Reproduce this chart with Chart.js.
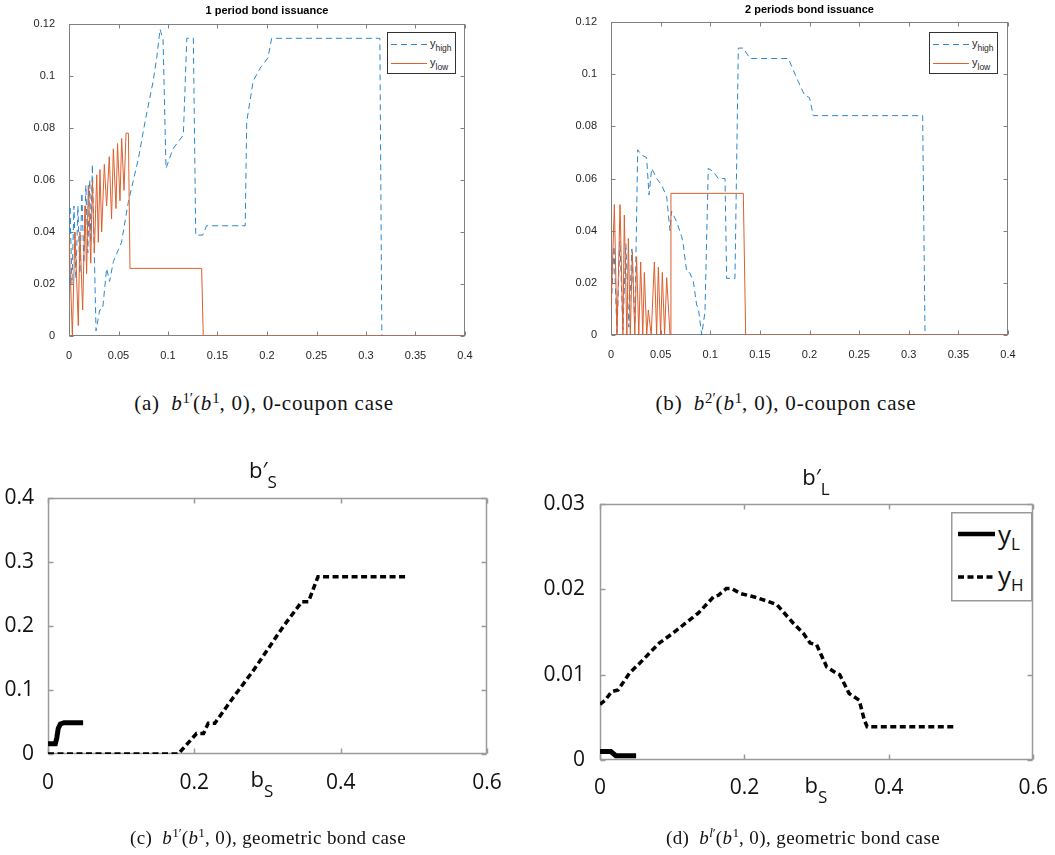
<!DOCTYPE html>
<html><head><meta charset="utf-8">
<script src="https://cdn.jsdelivr.net/npm/chart.js@4.4.1/dist/chart.umd.min.js"></script>
<style>
body{margin:0;background:#fff;}
#wrap{position:relative;width:1055px;height:855px;overflow:hidden;background:#fff;}
canvas{position:absolute;}
.t{position:absolute;white-space:nowrap;}
.cap{font-family:'Liberation Serif',serif;color:#111;transform:translateX(-50%);line-height:22px;}
.capT{font-size:21px;letter-spacing:0.8px;}
.capB{font-size:19px;letter-spacing:0.4px;}
.cap sup{font-size:0.7em;vertical-align:0.5em;line-height:0;letter-spacing:0;}
.ml{font-family:'Open Sans',sans-serif;color:#111;transform:translateX(-50%);font-size:22px;line-height:22px;}
.sub{font-size:17px;position:relative;top:10px;}
</style></head>
<body><div id="wrap">
<canvas id="ca" width="527" height="380" style="left:0;top:0"></canvas>
<canvas id="cb" width="528" height="380" style="left:527px;top:0"></canvas>
<canvas id="cc" width="527" height="400" style="left:0;top:430px"></canvas>
<canvas id="cd" width="528" height="400" style="left:527px;top:430px"></canvas>

<svg class="t" style="left:387px;top:32px" width="70" height="43">
 <rect x="0.5" y="0.5" width="68" height="41" fill="#fff" stroke="#333" stroke-width="1"/>
 <line x1="4" y1="12.5" x2="40" y2="12.5" stroke="#2b87cc" stroke-width="1" stroke-dasharray="6 4"/>
 <text x="43" y="15" font-family="Liberation Sans" font-size="11" fill="#262626">y<tspan font-size="8.5" dy="3.5">high</tspan></text>
 <line x1="4" y1="31.5" x2="40" y2="31.5" stroke="#dd5f2c" stroke-width="1"/>
 <text x="43" y="34" font-family="Liberation Sans" font-size="11" fill="#262626">y<tspan font-size="8.5" dy="3.5">low</tspan></text>
</svg>
<svg class="t" style="left:929px;top:32px" width="70" height="43">
 <rect x="0.5" y="0.5" width="68" height="41" fill="#fff" stroke="#333" stroke-width="1"/>
 <line x1="4" y1="12.5" x2="40" y2="12.5" stroke="#2b87cc" stroke-width="1" stroke-dasharray="6 4"/>
 <text x="43" y="15" font-family="Liberation Sans" font-size="11" fill="#262626">y<tspan font-size="8.5" dy="3.5">high</tspan></text>
 <line x1="4" y1="31.5" x2="40" y2="31.5" stroke="#dd5f2c" stroke-width="1"/>
 <text x="43" y="34" font-family="Liberation Sans" font-size="11" fill="#262626">y<tspan font-size="8.5" dy="3.5">low</tspan></text>
</svg>
<svg class="t" style="left:951px;top:512px" width="82" height="90">
 <rect x="0.75" y="0.75" width="80" height="88" fill="#fff" stroke="#999" stroke-width="1.5"/>
 <line x1="7" y1="22" x2="44" y2="22" stroke="#000" stroke-width="4.5"/>
 <text x="47" y="32" font-family="Open Sans" font-size="26" fill="#111">y<tspan font-size="17" dy="6">L</tspan></text>
 <line x1="7" y1="65" x2="44" y2="65" stroke="#000" stroke-width="3.5" stroke-dasharray="6 3.5"/>
 <text x="47" y="73" font-family="Open Sans" font-size="26" fill="#111">y<tspan font-size="17" dy="6">H</tspan></text>
</svg>

<div class="t ml" style="left:263px;top:458px">b′<span class="sub">S</span></div>
<div class="t ml" style="left:262px;top:767px">b<span class="sub">S</span></div>
<div class="t ml" style="left:816px;top:465px">b′<span class="sub">L</span></div>
<div class="t ml" style="left:816px;top:773px">b<span class="sub">S</span></div>

<div class="t cap capT" style="left:264px;top:392px">(a)&ensp;<i>b</i><sup>1′</sup>(<i>b</i><sup>1</sup>, 0), 0-coupon case</div>
<div class="t cap capT" style="left:786px;top:392px">(b)&ensp;<i>b</i><sup>2′</sup>(<i>b</i><sup>1</sup>, 0), 0-coupon case</div>
<div class="t cap capB" style="left:268px;top:827px">(c)&ensp;<i>b</i><sup>1′</sup>(<i>b</i><sup>1</sup>, 0), geometric bond case</div>
<div class="t cap capB" style="left:803px;top:827px">(d)&ensp;<i>b</i><sup><i>l</i>′</sup>(<i>b</i><sup>1</sup>, 0), geometric bond case</div>
</div>
<script>
// ---- tick labels ----
const topXTicks=[0,0.05,0.1,0.15,0.2,0.25,0.3,0.35,0.4];
const topYTicks=[0,0.02,0.04,0.06,0.08,0.1,0.12];
const botXTicks=[0,0.2,0.4,0.6];
const cYTicks=[0,0.1,0.2,0.3,0.4];
const dYTicks=[0,0.01,0.02,0.03];

// ---- (a) 1 period bond issuance : [b1, value] ----
const aHigh=[[0,0.02],[0.001,0.05],[0.003,0.02],[0.005,0.05],[0.007,0.022],[0.009,0.05],[0.011,0.024],[0.013,0.055],[0.015,0.028],[0.017,0.058],[0.019,0.032],[0.021,0.06],[0.022,0.036],[0.0236,0.066],[0.0273,0.002],[0.031,0.010],[0.034,0.0104],[0.038,0.026],[0.041,0.021],[0.0448,0.0286],[0.053,0.036],[0.060,0.0517],[0.070,0.068],[0.0768,0.0824],[0.085,0.098],[0.0886,0.107],[0.092,0.118],[0.095,0.114],[0.098,0.0645],[0.105,0.072],[0.1155,0.0773],[0.119,0.1145],[0.1256,0.1145],[0.128,0.0388],[0.135,0.0388],[0.139,0.0424],[0.178,0.0424],[0.1795,0.0824],[0.186,0.098],[0.193,0.103],[0.201,0.107],[0.2047,0.1145],[0.314,0.1145],[0.316,0],[0.4,0]];
const aLow=[[0,0.039],[0.0034,0],[0.006,0.040],[0.0094,0.004],[0.011,0.040],[0.0138,0.010],[0.0162,0.050],[0.0178,0.024],[0.0195,0.058],[0.022,0.028],[0.0236,0.060],[0.0256,0.032],[0.028,0.062],[0.0296,0.036],[0.0313,0.064],[0.033,0.040],[0.0357,0.066],[0.038,0.050],[0.0407,0.069],[0.043,0.045],[0.0448,0.072],[0.0475,0.049],[0.049,0.074],[0.0515,0.052],[0.0532,0.076],[0.0556,0.056],[0.0576,0.078],[0.060,0.078],[0.0616,0.026],[0.134,0.026],[0.1356,0],[0.4,0]];

// ---- (b) 2 periods bond issuance ----
const bHigh=[[0,0.008],[0.003,0.034],[0.006,0.001],[0.009,0.036],[0.012,0.002],[0.015,0.035],[0.018,0.003],[0.021,0.033],[0.024,0.004],[0.0269,0.071],[0.0309,0.069],[0.0359,0.068],[0.0383,0.0537],[0.041,0.0639],[0.046,0.060],[0.051,0.0575],[0.0561,0.053],[0.0594,0.040],[0.061,0.0475],[0.0662,0.0434],[0.0712,0.0377],[0.0729,0.0345],[0.0762,0.0243],[0.0796,0.0237],[0.083,0.0204],[0.0863,0.0115],[0.088,0.0102],[0.0914,0],[0.0947,0.0089],[0.098,0.0639],[0.1031,0.0626],[0.1081,0.060],[0.1149,0.060],[0.1165,0.0217],[0.1249,0.0217],[0.1283,0.110],[0.1333,0.110],[0.140,0.106],[0.1787,0.106],[0.1887,0.0971],[0.195,0.092],[0.200,0.091],[0.2038,0.0841],[0.314,0.0841],[0.3164,0],[0.4,0]];
const bLow=[[0,0.0096],[0.0034,0.050],[0.006,0],[0.0091,0.050],[0.012,0],[0.0134,0.046],[0.016,0],[0.0175,0.037],[0.0195,0],[0.0215,0.032],[0.024,0],[0.0258,0.030],[0.028,0],[0.0299,0.028],[0.032,0],[0.0336,0.024],[0.036,0],[0.0376,0.0096],[0.0405,0],[0.0437,0.028],[0.046,0],[0.0477,0.026],[0.050,0],[0.0517,0.024],[0.054,0],[0.0561,0.022],[0.0595,0],[0.0604,0.0543],[0.1333,0.0543],[0.1357,0],[0.4,0]];

// ---- (c) b'_S geometric ----
const cHigh=[[0,0],[0.178,0],[0.203,0.032],[0.2125,0.032],[0.219,0.048],[0.228,0.048],[0.253,0.088],[0.281,0.131],[0.322,0.2],[0.347,0.238],[0.356,0.238],[0.369,0.277],[0.492,0.277]];
const cLow=[[0,0.016],[0.01,0.016],[0.012,0.025],[0.014,0.04],[0.017,0.047],[0.022,0.049],[0.048,0.049]];

// ---- (d) b'_L geometric ----
const dHigh=[[0,0.0065],[0.007,0.007],[0.016,0.008],[0.025,0.0082],[0.041,0.0102],[0.0545,0.0113],[0.082,0.0137],[0.1,0.0148],[0.118,0.016],[0.136,0.0172],[0.157,0.0191],[0.164,0.0193],[0.175,0.0201],[0.182,0.0201],[0.195,0.0195],[0.214,0.0191],[0.232,0.0186],[0.245,0.0182],[0.268,0.016],[0.282,0.0148],[0.291,0.0137],[0.3,0.0135],[0.314,0.0109],[0.327,0.0102],[0.332,0.01],[0.345,0.0078],[0.359,0.007],[0.366,0.0047],[0.37,0.0039],[0.493,0.0039]];
const dLow=[[0,0.001],[0.015,0.001],[0.022,0.0005],[0.05,0.0005]];

const BLUE='#2b87cc', ORANGE='#dd5f2c';
const pts=a=>a.map(([x,y])=>({x,y}));

const frame={
  id:'frame',
  beforeDatasetsDraw(chart,args,o){
    const {ctx,chartArea:a,scales}=chart;
    ctx.save();
    ctx.strokeStyle=o.color||'#808080'; ctx.lineWidth=o.width||1; ctx.setLineDash([]);
    const l=Math.round(a.left)+0.5, r=Math.round(a.right)-0.5, t=Math.round(a.top)+0.5, b=Math.round(a.bottom)-0.5;
    ctx.strokeRect(l,t,r-l,b-t);
    const L=o.len||4;
    ctx.beginPath();
    scales.x.ticks.forEach(tk=>{const p=Math.round(scales.x.getPixelForValue(tk.value))+0.5;ctx.moveTo(p,b);ctx.lineTo(p,b-L);ctx.moveTo(p,t);ctx.lineTo(p,t+L);});
    scales.y.ticks.forEach(tk=>{const p=Math.round(scales.y.getPixelForValue(tk.value))+0.5;ctx.moveTo(l,p);ctx.lineTo(l+L,p);ctx.moveTo(r,p);ctx.lineTo(r-L,p);});
    ctx.stroke(); ctx.restore();
  }
};
Chart.register(frame);

function axis(min,max,ticks,fit,isX,font,color,pad){
  return {type:'linear',min,max,
    afterBuildTicks:s=>{s.ticks=ticks.map(v=>({value:v}));},
    afterFit:s=>{ if(isX) s.height=fit; else s.width=fit; },
    grid:{display:false},border:{display:false},
    ticks:{autoSkip:false,maxRotation:0,minRotation:0,padding:pad,font,color,callback:v=>String(v)}};
}

function topChart(id,high,low,title,yW,padR,xH,tPad){
  const f={family:'Liberation Sans',size:11};
  return new Chart(document.getElementById(id),{
    type:'line',
    data:{datasets:[
      {label:'y_high',data:pts(high),borderColor:BLUE,borderWidth:1,borderDash:[6,4],pointRadius:0,tension:0,order:1},
      {label:'y_low',data:pts(low),borderColor:ORANGE,borderWidth:1,pointRadius:0,tension:0,order:0}
    ]},
    options:{responsive:false,animation:false,events:[],
      layout:{padding:{left:0,right:padR,top:0,bottom:0}},
      plugins:{legend:{display:false},tooltip:{enabled:false},
        title:{display:true,text:title,fullSize:false,color:'#000',font:{family:'Liberation Sans',size:11,weight:'bold',lineHeight:1},padding:tPad},
        frame:{color:'#808080',width:1,len:4}},
      scales:{x:axis(0,0.4,topXTicks,xH,true,f,'#262626',5),y:axis(0,0.12,topYTicks,yW,false,f,'#262626',6)}
    }});
}
topChart('ca',aHigh,aLow,'1 period bond issuance',69,62,44,{top:5,bottom:8});
topChart('cb',bHigh,bLow,'2 periods bond issuance',84,47,45,{top:4,bottom:7});

function botChart(id,high,low,ymax,yTicks,yW,padR,padT,xH,yPad,xPad){
  const f={family:'Open Sans',size:21};
  return new Chart(document.getElementById(id),{
    type:'line',
    data:{datasets:[
      {label:'y_L',data:pts(low),borderColor:'#000',borderWidth:5,pointRadius:0,tension:0,order:0},
      {label:'y_H',data:pts(high),borderColor:'#000',borderWidth:3.5,borderDash:[6,3.5],pointRadius:0,tension:0,order:1}
    ]},
    options:{responsive:false,animation:false,events:[],
      layout:{padding:{left:0,right:padR,top:padT,bottom:0}},
      plugins:{legend:{display:false},tooltip:{enabled:false},frame:{color:'#9a9a9a',width:1.5,len:5}},
      scales:{x:axis(0,0.6,botXTicks,xH,true,f,'#111',xPad),y:axis(0,ymax,yTicks,yW,false,f,'#111',yPad)}
    }});
}
botChart('cc',cHigh,cLow,0.4,cYTicks,48,40,68,76,6,8);
botChart('cd',dHigh,dLow,0.03,dYTicks,73,15,74,70,7,7);
</script>
</body></html>
